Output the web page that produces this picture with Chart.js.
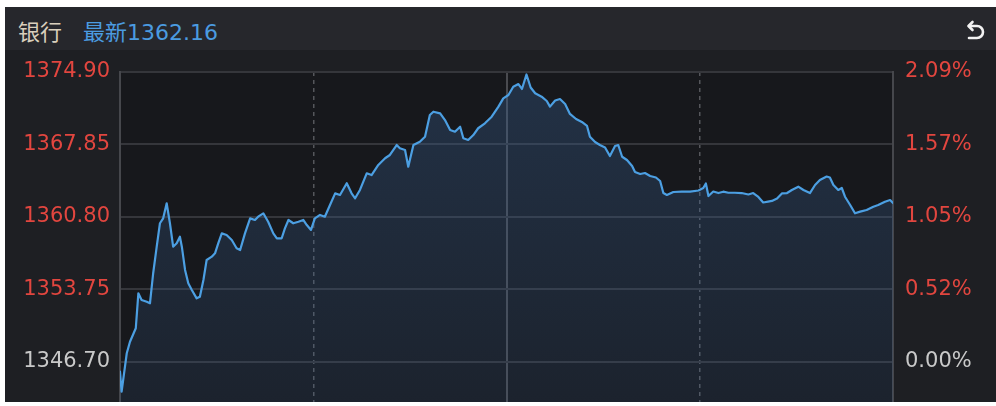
<!DOCTYPE html>
<html>
<head>
<meta charset="utf-8">
<script src="https://cdn.jsdelivr.net/npm/chart.js@4.4.0/dist/chart.umd.min.js"></script>
<style>
html, body { margin: 0; padding: 0; background: #fff; }
#panel { position: absolute; left: 5px; top: 7px; width: 991px; height: 395px; background: #1e1f23; overflow: hidden; }
#head { position: absolute; left: 0; top: 0; width: 991px; height: 43px; background: #26272c; font-family: "DejaVu Sans", "Noto Sans CJK SC", sans-serif; font-size: 22px; line-height: 24px; }
#name { position: absolute; left: 13px; top: 14px; color: #d9cfbc; }
#last { position: absolute; left: 78px; top: 14px; color: #4b9be0; }
#back { position: absolute; left: 959px; top: 13px; }
#c { position: absolute; left: 0; top: 43px; }
</style>
</head>
<body>
<div id="panel">
  <div id="head">
    <span id="name">银行</span>
    <span id="last">最新1362.16</span>
    <svg id="back" width="22" height="22" viewBox="0 0 22 22">
      <path d="M5 6 H13 A6 6 0 0 1 13 18 H5" fill="none" stroke="#f2f2f2" stroke-width="2.6" stroke-linecap="round"/>
      <path d="M8.5 2 L4.5 6 L8.5 10" fill="none" stroke="#f2f2f2" stroke-width="2.6" stroke-linecap="round" stroke-linejoin="round"/>
    </svg>
  </div>
  <canvas id="c" width="991" height="352"></canvas>
</div>
<script>
// minutes since 9:30 (lunch break removed), 240 = 15:00
const minutes = [0,0.5,2.1,3.1,4.9,5.7,6.7,8.3,9.3,10.3,
  11.4,12.4,13.4,14.5,15.5,16.5,17.6,18.6,19.2,20.2,
  21.2,22.3,23.8,24.8,25.9,26.9,28.5,29.5,30.5,31.6,
  33.1,34.7,36.2,37.3,38.8,40.4,41.9,42.9,44.5,46.0,
  47.6,48.7,50.2,51.2,52.3,53.8,55.4,56.9,58.0,59.3,
  60.5,62.1,63.6,65.2,66.8,68.3,70.4,71.9,73.0,74.5,
  76.6,78.1,80.2,82.3,83.8,85.9,86.9,88.5,89.5,91.1,
  93.1,94.7,96.2,97.3,99.4,100.9,102.5,104.0,105.6,106.6,
  108.1,109.7,111.2,113.3,115.4,117.5,119.0,120.6,122.1,123.7,
  124.8,126.2,127.5,128.9,130.9,132.5,133.5,135.1,136.6,138.2,
  139.7,141.6,143.4,145.0,145.9,147.5,149.0,150.6,152.1,153.7,
  154.7,155.9,157.4,159.0,159.9,161.5,163.0,164.6,166.4,167.7,
  168.7,169.8,171.8,174.4,177.0,179.6,181.1,181.9,182.7,184.2,
  185.8,187.3,188.9,190.9,193.0,195.1,196.6,198.2,199.7,201.2,
  202.4,204.0,205.5,207.1,208.6,210.6,212.2,214.2,215.8,217.3,
  219.4,220.4,221.5,223.0,224.1,225.1,226.7,228.2,229.8,231.8,
  233.9,235.4,237.5,239.1,240];

const prices = [1345.76,1343.81,1347.55,1348.67,1349.98,1353.38,1352.73,1352.56,1352.41,1355.33,
  1357.91,1360.19,1360.67,1362.13,1360.19,1357.91,1358.24,1358.88,1357.91,1355.65,
  1354.35,1353.70,1352.89,1353.05,1354.67,1356.62,1356.94,1357.27,1358.24,1359.21,
  1359.05,1358.56,1357.76,1357.59,1359.21,1360.67,1360.51,1360.83,1361.16,1360.34,
  1359.21,1358.73,1358.73,1359.70,1360.51,1360.19,1360.34,1360.51,1360.02,1359.54,
  1360.67,1361.00,1360.83,1361.97,1363.10,1362.94,1364.08,1363.10,1362.62,1363.43,
  1365.05,1364.88,1365.86,1366.51,1366.83,1367.80,1367.48,1367.32,1365.69,1367.80,
  1368.12,1368.61,1370.72,1371.04,1370.88,1370.23,1369.26,1369.09,1369.58,1368.45,
  1368.29,1368.77,1369.43,1369.91,1370.55,1371.53,1372.34,1372.66,1373.47,1373.73,
  1373.25,1374.66,1373.39,1372.83,1372.50,1372.08,1371.53,1372.13,1372.27,1371.79,
  1370.82,1370.33,1370.04,1369.65,1368.61,1368.09,1367.80,1367.56,1366.73,1367.70,
  1367.80,1366.66,1366.34,1365.76,1365.18,1364.98,1365.08,1364.79,1364.64,1364.30,
  1363.13,1362.94,1363.23,1363.26,1363.26,1363.38,1363.62,1364.06,1362.84,1363.28,
  1363.13,1363.26,1363.16,1363.16,1363.13,1362.99,1363.13,1362.75,1362.21,1362.29,
  1362.36,1362.60,1363.09,1363.13,1363.43,1363.75,1363.43,1363.13,1363.91,1364.40,
  1364.74,1364.64,1363.91,1363.43,1363.62,1362.77,1361.97,1361.16,1361.32,1361.48,
  1361.80,1361.97,1362.29,1362.45,1362.16];

const prevClose = 1346.70;
const priceTicks = [1346.70, 1353.75, 1360.80, 1367.85, 1374.90];
const pctLabels = ['0.00%', '0.52%', '1.05%', '1.57%', '2.09%'];
const solidTimes = [120];
const dashedTimes = [60, 180];
const yMin = 1342.81;
const yMax = 1374.90;

const RED = '#e2463f';
const GREY = '#c9c9c9';
const tickFont = { family: "'DejaVu Sans', sans-serif", size: 21 };

// dark plot background
const areaBg = {
  id: 'areaBg',
  beforeDraw(chart) {
    const { ctx, chartArea: a } = chart;
    ctx.save();
    ctx.fillStyle = '#17181c';
    ctx.fillRect(a.left, a.top, a.right - a.left, a.bottom - a.top);
    ctx.restore();
  }
};

function timeAxis(values, color, width, dash) {
  return {
    type: 'linear',
    position: 'bottom',
    min: 0,
    max: 240,
    afterBuildTicks: s => { s.ticks = values.map(v => ({ value: v })); },
    afterFit: s => { s.height = 0; },
    ticks: { display: false },
    grid: { color: color, lineWidth: width, drawTicks: false },
    border: { display: false, dash: dash }
  };
}

function priceAxis(pos, width, labelFn, showGrid) {
  return {
    position: pos,
    min: yMin,
    max: yMax,
    afterBuildTicks: s => { s.ticks = priceTicks.map(v => ({ value: v })); },
    afterFit: s => { s.width = width; s.paddingTop = 0; s.paddingBottom = 0; },
    ticks: {
      font: tickFont,
      padding: pos === 'left' ? 10 : 12,
      color: c => c.tick && c.tick.value === prevClose ? GREY : RED,
      callback: labelFn
    },
    grid: { display: showGrid, color: '#35363b', lineWidth: 2, drawTicks: false },
    border: { display: true, color: '#46474c', width: 2 }
  };
}

new Chart(document.getElementById('c'), {
  type: 'line',
  data: {
    datasets: [{
      data: minutes.map((m, i) => ({ x: m, y: prices[i] })),
      xAxisID: 'x',
      yAxisID: 'y',
      borderColor: '#4c9fe2',
      borderWidth: 2.2,
      borderJoinStyle: 'round',
      borderCapStyle: 'round',
      pointRadius: 0,
      tension: 0,
      fill: 'start',
      backgroundColor: c => {
        const { ctx, chartArea } = c.chart;
        if (!chartArea) return 'rgba(0,0,0,0)';
        const g = ctx.createLinearGradient(0, chartArea.top, 0, chartArea.bottom);
        g.addColorStop(0, 'rgba(55,95,145,0.36)');
        g.addColorStop(1, 'rgba(55,95,145,0.15)');
        return g;
      }
    }]
  },
  options: {
    responsive: false,
    animation: false,
    devicePixelRatio: 1,
    layout: { padding: { top: 22, left: 0, right: 0, bottom: 0 } },
    plugins: { legend: { display: false }, tooltip: { enabled: false } },
    scales: {
      x: timeAxis(solidTimes, '#4a4b50', 2, []),
      x2: timeAxis(dashedTimes, '#55565b', 1.5, [4, 4]),
      y: priceAxis('left', 115, v => v.toFixed(2), true),
      y1: priceAxis('right', 103, (v, i) => pctLabels[i], false)
    }
  },
  plugins: [areaBg]
});
</script>
</body>
</html>
